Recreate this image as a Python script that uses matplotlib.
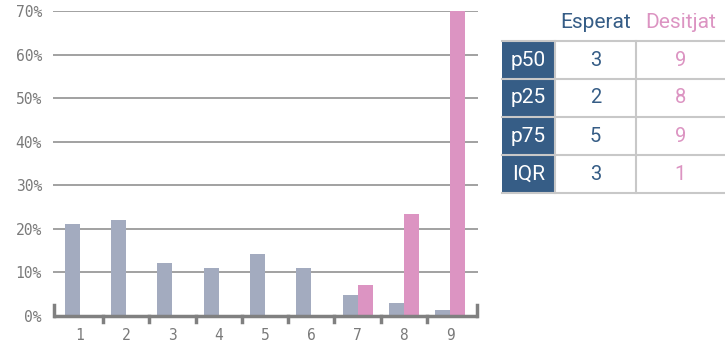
import matplotlib
matplotlib.use("Agg")
import matplotlib.pyplot as plt
from matplotlib.patches import Rectangle
from matplotlib.lines import Line2D

# Distribution of answers (share of respondents, %)
categories = [1, 2, 3, 4, 5, 6, 7, 8, 9]
esperat_pct = [21.1, 22.0, 12.2, 11.0, 14.2, 11.0, 4.8, 3.0, 1.4]
desitjat_pct = [0, 0, 0, 0, 0, 0, 7.1, 23.4, 70.0]
y_ticks = [0, 10, 20, 30, 40, 50, 60, 70]

# Summary statistics table
stat_rows = ["p50", "p25", "p75", "IQR"]
stat_esperat = [3, 2, 5, 3]
stat_desitjat = [9, 8, 9, 1]
col_headers = ["Esperat", "Desitjat"]

GREY_BAR = "#a3abbf"
PINK = "#dc94c2"
BLUE = "#365d86"
AXIS_GREY = "#808080"
GRID_GREY = "#9a9a9a"
TEXT_GREY = "#7a7a7a"

W, H = 725, 348
fig = plt.figure(figsize=(W / 100, H / 100), dpi=100)

ax = fig.add_axes([53 / W, 32 / H, (478 - 53) / W, (316 - 11) / H])
bw = 0.325
ax.bar([c - bw / 2 for c in categories], esperat_pct, width=bw, color=GREY_BAR, zorder=3)
ax.bar([c + bw / 2 for c in categories], desitjat_pct, width=bw, color=PINK, zorder=3)

ax.set_xlim(0.42, 9.6)
ax.set_ylim(0, 70)
for s in ["top", "left", "right", "bottom"]:
    ax.spines[s].set_visible(False)

for v in y_ticks[1:]:
    ax.axhline(v, color=GRID_GREY, lw=1.3, zorder=1)

ax.set_yticks(y_ticks)
ax.set_yticklabels([f"{v}%" for v in y_ticks], family="DejaVu Sans Mono",
                   fontsize=10.5, color=TEXT_GREY)
ax.tick_params(axis="y", length=0, pad=8)
ax.set_xticks(categories)
ax.set_xticklabels([str(c) for c in categories], family="DejaVu Sans Mono",
                   fontsize=10.5, color=TEXT_GREY)
ax.tick_params(axis="x", length=0, pad=9)

# baseline with separators between categories and raised end caps
ax.plot([0.42, 9.6], [0, 0], color=AXIS_GREY, lw=2.5, zorder=4, solid_capstyle="butt",
        clip_on=False)
trans = ax.get_xaxis_transform()
for c in categories[:-1]:
    ax.add_line(Line2D([c + 0.5, c + 0.5], [0, -0.02], transform=trans, color=AXIS_GREY,
                       lw=2.5, clip_on=False, zorder=4))
for xe in (0.42 + 0.025, 9.6 - 0.025):
    ax.add_line(Line2D([xe, xe], [0, 0.035], transform=trans, color=AXIS_GREY,
                       lw=2.5, clip_on=False, zorder=4))

# summary table drawn in pixel coordinates
def fx(px):
    return px / W

def fy(py):
    return 1 - py / H

col_x = [502, 555, 636, 725]
row_y = [41, 79, 117, 155, 193]
header_colors = [BLUE, PINK]

for j, name in enumerate(col_headers):
    cx = (col_x[j + 1] + col_x[j + 2]) / 2
    fig.text(fx(cx), fy(22), name, ha="center", va="center", fontsize=15,
             color=header_colors[j], family="Roboto")

for i, lab in enumerate(stat_rows):
    y0, y1 = row_y[i], row_y[i + 1]
    fig.patches.append(Rectangle((fx(col_x[0]), fy(y1)), fx(col_x[1] - col_x[0]),
                                 (y1 - y0) / H, transform=fig.transFigure,
                                 facecolor=BLUE, edgecolor="none"))
    cy = (y0 + y1) / 2
    fig.text(fx((col_x[0] + col_x[1]) / 2), fy(cy), lab, ha="center", va="center",
             fontsize=15, color="white", family="Roboto")
    vals = [stat_esperat[i], stat_desitjat[i]]
    for j, v in enumerate(vals):
        cx = (col_x[j + 1] + col_x[j + 2]) / 2
        fig.text(fx(cx), fy(cy), str(v), ha="center", va="center", fontsize=14.5,
                 color=header_colors[j], family="Roboto")

LINE = "#c8c8c8"
for y in row_y:
    fig.lines.append(Line2D([fx(col_x[0]), fx(col_x[-1])], [fy(y), fy(y)],
                            transform=fig.transFigure, color=LINE, lw=1.5))
for x in col_x[1:3]:
    fig.lines.append(Line2D([fx(x), fx(x)], [fy(row_y[0]), fy(row_y[-1])],
                            transform=fig.transFigure, color=LINE, lw=1.5))

fig.savefig("out.png", dpi=100)
